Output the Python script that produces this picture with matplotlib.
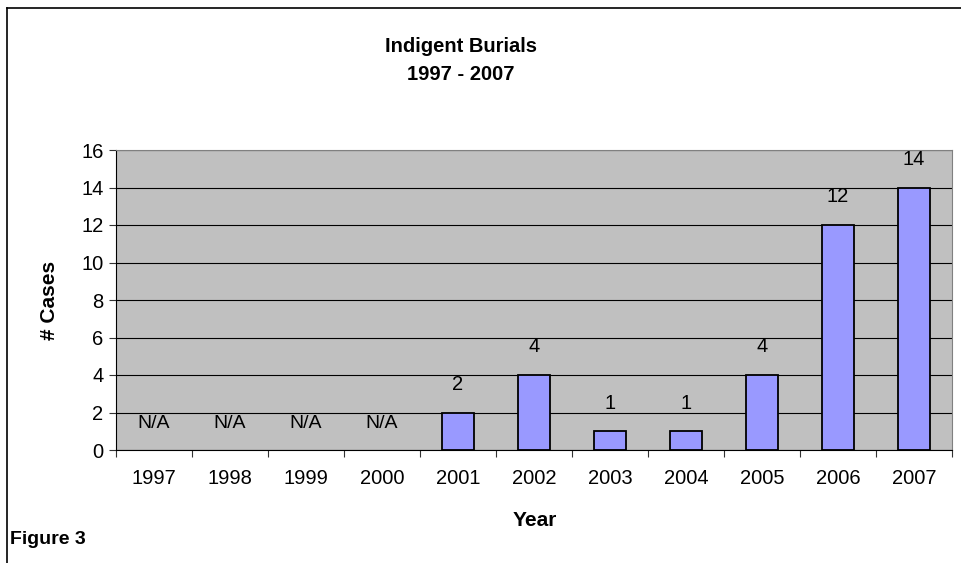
import matplotlib.pyplot as plt

years = ["1997", "1998", "1999", "2000", "2001", "2002", "2003", "2004", "2005", "2006", "2007"]
cases = [0, 0, 0, 0, 2, 4, 1, 1, 4, 12, 14]
labels = ["N/A", "N/A", "N/A", "N/A", "2", "4", "1", "1", "4", "12", "14"]

plt.rcParams["font.family"] = ["Liberation Sans", "DejaVu Sans"]

fig = plt.figure(figsize=(9.61, 5.63), dpi=100)
ax = fig.add_axes([116 / 961, 113 / 563, 836 / 961, 300 / 563])

x = range(len(years))
ax.set_facecolor("#c0c0c0")
# no outline for the N/A years (zero-height bars)
lw = [1.3 if v > 0 else 0 for v in cases]
ax.bar(x, cases, width=0.41, color="#9999ff", edgecolor="black", linewidth=lw, zorder=3)
for i, (v, lab) in enumerate(zip(cases, labels)):
    if lab == "N/A":
        ax.text(i, 1.4, lab, ha="center", va="center", fontsize=14, zorder=4)
    else:
        ax.text(i, v + 1.5, lab, ha="center", va="center", fontsize=14.5, zorder=4)

ax.set_xlim(-0.5, len(years) - 0.5)
ax.set_ylim(0, 16)
ax.set_yticks(range(0, 17, 2))
ax.yaxis.grid(True, color="black", linewidth=0.8, zorder=1)
ax.set_xticks([i - 0.5 for i in range(len(years) + 1)])
ax.set_xticklabels([])
ax.set_xticks(list(x), minor=True)
ax.set_xticklabels(years, minor=True, fontsize=14.5)
ax.tick_params(axis="x", which="minor", length=0, pad=14)
ax.tick_params(axis="x", which="major", length=5, direction="out", width=0.8, color="#333333")
ax.tick_params(axis="y", length=5, width=0.8, labelsize=14.5, color="#333333", pad=4)
for side in ["top", "right"]:
    ax.spines[side].set_color("#808080")
ax.spines["left"].set_color("black")
ax.spines["bottom"].set_color("black")

ax.set_xlabel("Year", fontsize=15, fontweight="bold", va="center")
ax.set_ylabel("# Cases", fontsize=15, fontweight="bold", va="center")
ax.xaxis.set_label_coords((535 - 116) / 836, -(521 - 450) / 300)
ax.yaxis.set_label_coords((49 - 116) / 836, 0.5)

fig.text(461 / 961, 1 - 46 / 563, "Indigent Burials", ha="center", va="center", fontsize=14.5, fontweight="bold")
fig.text(461 / 961, 1 - 74 / 563, "1997 - 2007", ha="center", va="center", fontsize=14.5, fontweight="bold")
fig.text(10 / 961, 1 - 540 / 563, "Figure 3", ha="left", va="center", fontsize=14, fontweight="bold")

fig.add_artist(plt.Line2D([7 / 961, 7 / 961], [0, 1 - 8 / 563], transform=fig.transFigure, color="black", linewidth=1.2))
fig.add_artist(plt.Line2D([7 / 961, 1], [1 - 8 / 563, 1 - 8 / 563], transform=fig.transFigure, color="black", linewidth=1.2))

fig.savefig("out.png", dpi=100)
